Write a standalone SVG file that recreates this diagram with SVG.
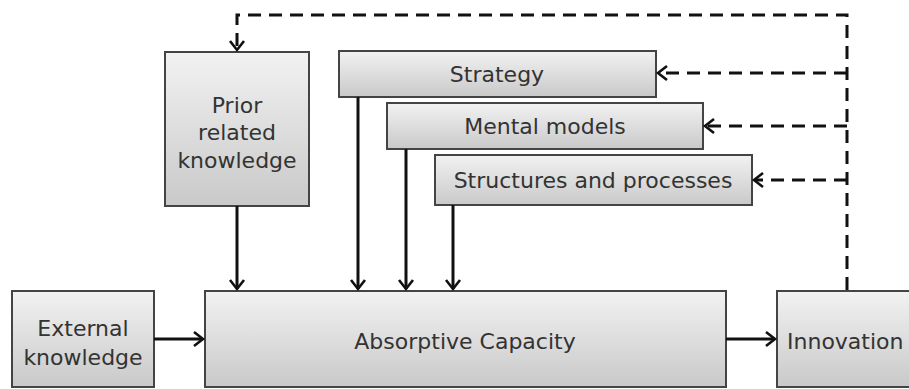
<svg xmlns="http://www.w3.org/2000/svg" width="909" height="389" viewBox="0 0 909 389">
<defs>
<linearGradient id="g" x1="0" y1="0" x2="0" y2="1">
<stop offset="0" stop-color="#f2f2f2"/>
<stop offset="1" stop-color="#c9c9c9"/>
</linearGradient>
<marker id="ah" markerUnits="userSpaceOnUse" markerWidth="18" markerHeight="18" refX="14" refY="9" orient="auto">
<path d="M5,2 L14,9 L5,16" fill="none" stroke="#111" stroke-width="2.6"/>
</marker>
</defs>
<style>
.box{fill:url(#g);stroke:#444;stroke-width:2}
.t{font-family:"DejaVu Sans",Verdana,sans-serif;font-size:22px;fill:#333;text-anchor:middle}
.s{fill:none;stroke:#111;stroke-width:3}
.d{fill:none;stroke:#111;stroke-width:3;stroke-dasharray:13 8}
</style>
<g id="prior">
<rect class="box" x="165" y="52" width="144" height="154"/>
<text class="t" x="237" y="113">Prior</text>
<text class="t" x="237" y="140">related</text>
<text class="t" x="237" y="168">knowledge</text>
</g>
<g id="strategy">
<rect class="box" x="339" y="51" width="317" height="46"/>
<text class="t" x="497" y="82">Strategy</text>
</g>
<g id="mental">
<rect class="box" x="387" y="103" width="316" height="46"/>
<text class="t" x="545" y="134">Mental models</text>
</g>
<g id="structures">
<rect class="box" x="435" y="155" width="317" height="50"/>
<text class="t" x="593" y="188">Structures and processes</text>
</g>
<g id="external">
<rect class="box" x="12" y="291" width="142" height="96"/>
<text class="t" x="83" y="336">External</text>
<text class="t" x="83" y="365">knowledge</text>
</g>
<g id="absorptive">
<rect class="box" x="205" y="291" width="521" height="96"/>
<text class="t" x="465" y="349">Absorptive Capacity</text>
</g>
<g id="innovation">
<rect class="box" x="777" y="291" width="145" height="96"/>
<text class="t" x="787" y="349" style="text-anchor:start">Innovation</text>
</g>
<g id="connectors">
<line class="s" x1="237" y1="206" x2="237" y2="289" marker-end="url(#ah)"/>
<line class="s" x1="358" y1="97" x2="358" y2="289" marker-end="url(#ah)"/>
<line class="s" x1="406" y1="149" x2="406" y2="289" marker-end="url(#ah)"/>
<line class="s" x1="453" y1="205" x2="453" y2="289" marker-end="url(#ah)"/>
<line class="s" x1="154" y1="339" x2="203" y2="339" marker-end="url(#ah)"/>
<line class="s" x1="726" y1="339" x2="775" y2="339" marker-end="url(#ah)"/>
<path class="d" d="M847,290 L847,15 L237,15 L237,50" marker-end="url(#ah)"/>
<line class="d" x1="847" y1="73" x2="658" y2="73" marker-end="url(#ah)"/>
<line class="d" x1="847" y1="126" x2="705" y2="126" marker-end="url(#ah)"/>
<line class="d" x1="847" y1="180" x2="754" y2="180" marker-end="url(#ah)"/>
</g>
</svg>
